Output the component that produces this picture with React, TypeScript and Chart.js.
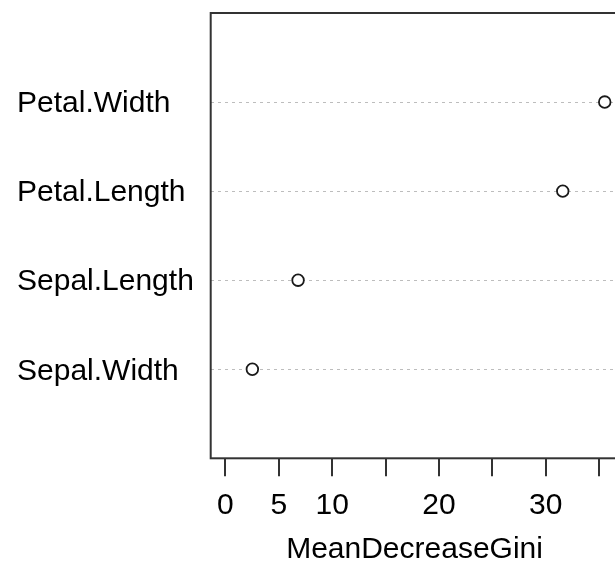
import React, { useEffect, useRef } from "react";
import { Chart, registerables } from "chart.js";

Chart.register(...registerables);

// Variable importance (random forest on iris), bottom to top
const variables = ["Sepal.Width", "Sepal.Length", "Petal.Length", "Petal.Width"];
const meanDecreaseGini = [2.53, 6.81, 31.59, 35.52];
const xTickLabels = [0, 5, 10, 20, 30];
const xTitle = "MeanDecreaseGini";

const FONT = "'Liberation Sans', Arial, sans-serif";

// Frame around the plotting region, drawn like a base-graphics box
const boxPlugin = {
  id: "plotBox",
  afterDraw(chart: any) {
    const { ctx, chartArea } = chart;
    ctx.save();
    ctx.strokeStyle = "#333333";
    ctx.lineWidth = 2;
    ctx.strokeRect(chartArea.left, chartArea.top, chartArea.right - chartArea.left, chartArea.bottom - chartArea.top);
    ctx.restore();
  },
};

const zeroPadding = (scale: any) => {
  scale.paddingTop = 0;
  scale.paddingBottom = 0;
  scale.paddingLeft = 0;
  scale.paddingRight = 0;
};

export default function App() {
  const canvasRef = useRef<HTMLCanvasElement | null>(null);

  useEffect(() => {
    if (!canvasRef.current) return;
    const chart = new Chart(canvasRef.current, {
      type: "scatter",
      data: {
        datasets: [
          {
            data: meanDecreaseGini.map((v, i) => ({ x: v, y: i + 1 })),
            pointStyle: "circle",
            pointRadius: 5.8,
            pointBorderWidth: 1.8,
            pointBorderColor: "#1a1a1a",
            pointBackgroundColor: "#ffffff",
          },
        ],
      },
      options: {
        animation: false,
        responsive: false,
        maintainAspectRatio: false,
        layout: { padding: { left: 17, top: 13, right: 41.6, bottom: 0 } },
        plugins: {
          legend: { display: false },
          tooltip: { enabled: false },
        },
        scales: {
          x: {
            type: "linear",
            min: -1.37,
            max: 36.8,
            afterFit(scale: any) {
              scale.height = 107.7;
              zeroPadding(scale);
            },
            border: { display: false },
            grid: {
              display: true,
              drawOnChartArea: false,
              drawTicks: true,
              tickLength: 18,
              color: "#333333",
              lineWidth: 2,
              tickWidth: 2,
            },
            ticks: {
              stepSize: 5,
              includeBounds: false,
              autoSkip: false,
              maxRotation: 0,
              padding: 11,
              color: "#000000",
              font: { family: FONT, size: 30 },
              callback: (v: any) => (xTickLabels.includes(Number(v)) ? String(v) : ""),
            },
            title: {
              display: true,
              text: xTitle,
              color: "#000000",
              font: { family: FONT, size: 30, lineHeight: 1.1 },
              padding: { top: 0, bottom: 0 },
            },
          },
          y: {
            type: "linear",
            min: 0,
            max: 5,
            afterFit(scale: any) {
              scale.width = 210.7 - 17;
              zeroPadding(scale);
            },
            border: { display: false, dash: [3, 4] },
            grid: {
              display: true,
              drawTicks: false,
              lineWidth: 1,
              color: (ctx: any) =>
                ctx.tick && ctx.tick.value >= 1 && ctx.tick.value <= variables.length ? "#bdbdbd" : "rgba(0,0,0,0)",
            },
            ticks: {
              stepSize: 1,
              autoSkip: false,
              crossAlign: "far",
              labelOffset: 2,
              color: "#000000",
              font: { family: FONT, size: 30 },
              callback: (v: any) => variables[Number(v) - 1] ?? "",
            },
          },
        },
      },
      plugins: [boxPlugin],
    } as any);
    return () => chart.destroy();
  }, []);

  return (
    <div
      style={{
        position: "fixed",
        left: 0,
        top: 0,
        width: 615,
        height: 566,
        overflow: "hidden",
        background: "#ffffff",
      }}
    >
      <canvas ref={canvasRef} width={660} height={566} style={{ display: "block" }} />
    </div>
  );
}
